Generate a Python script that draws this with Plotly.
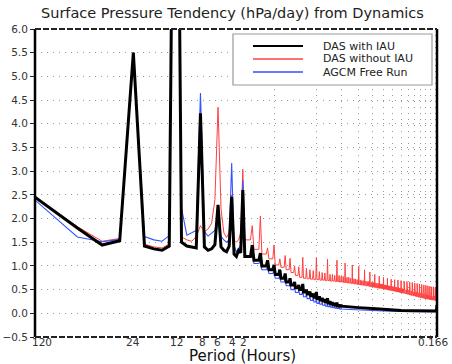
import math
import plotly.graph_objects as go

# ---------------- data (x = harmonic number k, period = 120/k hours) ----------------
k_low = list(range(1, 31))

das_iau_low = [2.45, 1.80, 1.44, 1.53, 5.50, 1.42, 1.36, 1.33, 1.42, 16.0,
               1.50, 1.42, 1.40, 1.38, 4.22, 1.40, 1.33, 1.36, 1.45, 2.29,
               1.40, 1.33, 1.30, 1.42, 2.46, 1.25, 1.20, 1.33, 1.28, 2.60]
das_noiau_low = [2.46, 1.83, 1.52, 1.58, 5.50, 1.46, 1.40, 1.38, 1.46, 15.0,
                 1.61, 1.55, 1.52, 1.62, 1.85, 1.72, 1.78, 1.90, 2.40, 4.35,
                 2.20, 1.70, 1.60, 1.70, 2.50, 1.55, 1.50, 1.55, 1.70, 3.04]
agcm_low = [2.39, 1.61, 1.51, 1.56, 5.50, 1.62, 1.55, 1.52, 1.64, 16.0,
            2.22, 1.65, 1.70, 1.75, 4.65, 1.72, 1.63, 1.69, 1.75, 2.05,
            1.62, 1.55, 1.50, 1.55, 3.17, 1.42, 1.30, 1.35, 1.45, 2.81]

# diurnal-harmonic spikes (k = 35, 40, ..., 720)
red_spike_k = list(range(35, 721, 5))
red_peak = [1.85, 2.05, 1.38, 1.44, 1.15, 1.22, 1.16, 1.00, 0.98, 1.18,
            0.95, 0.92, 0.90, 1.17, 0.88, 0.86, 0.85, 1.14, 0.82, 0.82,
            0.80, 1.12, 0.80, 0.78, 0.78, 1.06, 0.76, 0.76, 0.74, 1.02,
            0.73, 0.72, 0.71, 0.99, 0.70, 0.69, 0.69, 0.92, 0.68, 0.67,
            0.67, 0.87, 0.66, 0.65, 0.65, 0.82, 0.64, 0.63, 0.63, 0.78,
            0.62, 0.62, 0.61, 0.76, 0.60, 0.60, 0.59, 0.74, 0.58, 0.58,
            0.57, 0.72, 0.57, 0.56, 0.56, 0.71, 0.55, 0.55, 0.54, 0.70,
            0.54, 0.53, 0.53, 0.69, 0.52, 0.52, 0.51, 0.68, 0.51, 0.50,
            0.50, 0.67, 0.49, 0.49, 0.48, 0.66, 0.48, 0.47, 0.47, 0.65,
            0.46, 0.46, 0.46, 0.64, 0.45, 0.45, 0.44, 0.63, 0.44, 0.43,
            0.43, 0.62, 0.43, 0.42, 0.42, 0.61, 0.41, 0.41, 0.41, 0.60,
            0.40, 0.40, 0.40, 0.59, 0.39, 0.39, 0.39, 0.58, 0.38, 0.38,
            0.38, 0.57, 0.37, 0.37, 0.37, 0.56, 0.37, 0.36, 0.36, 0.56,
            0.36, 0.36, 0.35, 0.55, 0.35, 0.35, 0.35, 0.55]
red_trough = [1.55, 1.35, 1.25, 1.15, 1.02, 0.97, 0.92, 0.86, 0.80, 0.76,
              0.74, 0.73, 0.72, 0.71, 0.71, 0.70, 0.70, 0.69, 0.69, 0.68,
              0.68, 0.67, 0.67, 0.66, 0.66, 0.65, 0.65, 0.64, 0.64, 0.63,
              0.63, 0.62, 0.62, 0.61, 0.61, 0.60, 0.60, 0.59, 0.59, 0.58,
              0.58, 0.57, 0.57, 0.56, 0.56, 0.55, 0.55, 0.54, 0.54, 0.53,
              0.53, 0.53, 0.52, 0.52, 0.51, 0.51, 0.51, 0.50, 0.50, 0.49,
              0.49, 0.49, 0.48, 0.48, 0.47, 0.47, 0.47, 0.46, 0.46, 0.45,
              0.45, 0.45, 0.44, 0.44, 0.44, 0.43, 0.43, 0.42, 0.42, 0.42,
              0.41, 0.41, 0.40, 0.40, 0.40, 0.39, 0.39, 0.39, 0.38, 0.38,
              0.38, 0.37, 0.37, 0.37, 0.36, 0.36, 0.36, 0.35, 0.35, 0.35,
              0.34, 0.34, 0.34, 0.34, 0.33, 0.33, 0.33, 0.33, 0.32, 0.32,
              0.32, 0.32, 0.31, 0.31, 0.31, 0.31, 0.30, 0.30, 0.30, 0.30,
              0.30, 0.29, 0.29, 0.29, 0.29, 0.29, 0.28, 0.28, 0.28, 0.28,
              0.28, 0.28, 0.28, 0.27, 0.27, 0.27, 0.27, 0.27]

bk_spike_k = list(range(35, 151, 5))
das_iau_peak = [1.44, 1.27, 1.12, 1.02, 0.92, 0.84, 0.74, 0.66, 0.60, 0.62,
                0.50, 0.46, 0.42, 0.45, 0.36, 0.33, 0.30, 0.32, 0.26, 0.24,
                0.22, 0.23, 0.19, 0.18]
das_iau_trough = [1.20, 1.12, 1.00, 0.92, 0.82, 0.74, 0.66, 0.60, 0.54, 0.50,
                  0.45, 0.41, 0.37, 0.34, 0.31, 0.28, 0.26, 0.24, 0.22, 0.20,
                  0.18, 0.17, 0.16, 0.15]
das_iau_tail_k = [151, 175, 200, 250, 300, 400, 500, 600, 700, 714, 720]
das_iau_tail = [0.15, 0.13, 0.12, 0.10, 0.08, 0.06, 0.055, 0.05, 0.05, 0.07, 0.17]

agcm_peak = [1.30, 1.10, 0.98, 0.90, 0.80, 0.75, 0.62, 0.55, 0.48, 0.50,
             0.40, 0.35, 0.32, 0.34, 0.26, 0.23, 0.20, 0.22, 0.17, 0.15,
             0.14, 0.15, 0.12, 0.11]
agcm_trough = [1.18, 1.05, 0.92, 0.84, 0.74, 0.66, 0.58, 0.50, 0.44, 0.40,
               0.35, 0.31, 0.27, 0.24, 0.21, 0.19, 0.17, 0.15, 0.14, 0.13,
               0.12, 0.11, 0.10, 0.09]
agcm_tail_k = [151, 175, 200, 250, 300, 400, 500, 600, 700, 714, 720]
agcm_tail = [0.09, 0.08, 0.07, 0.06, 0.05, 0.04, 0.035, 0.035, 0.035, 0.05, 0.13]

tick_k = [1.12, 5, 10.2, 15.4, 19.7, 25.5, 30.3, 674]
tick_text = ["120", "24", "12", "8", "6", "4", "2", "0.166"]
grid_k = list(range(50, 701, 50))

names = ["DAS with IAU", "DAS without IAU", "AGCM Free Run"]
colors = ["#000000", "#ff4040", "#3552ff"]
widths = [3, 1.0, 1.1]


def series(low, spike_k, peaks, troughs, tail_k=(), tail_v=()):
    xs, ys = list(k_low), list(low)
    for k, p, t in zip(spike_k, peaks, troughs):
        xs += [k - 4, k - 1, k]
        ys += [t, t, p]
    return xs + list(tail_k), ys + list(tail_v)


bx, by = series(das_iau_low, bk_spike_k, das_iau_peak, das_iau_trough, das_iau_tail_k, das_iau_tail)
rx, ry = series(das_noiau_low, red_spike_k, red_peak, red_trough)
ax_, ay = series(agcm_low, bk_spike_k, agcm_peak, agcm_trough, agcm_tail_k, agcm_tail)

fig = go.Figure()
for (x, y, i) in [(rx, ry, 1), (ax_, ay, 2), (bx, by, 0)]:
    fig.add_trace(go.Scatter(x=x, y=y, mode="lines", name=names[i],
                             line=dict(color=colors[i], width=widths[i]),
                             showlegend=False))

# plot area in pixels
L, R, T, B = 35, 437, 29, 337
W, H = 452, 364


def px(x):
    return (x - L) / (R - L)


def py(y):
    return (B - y) / (B - T)


shapes = [
    dict(type="line", xref="paper", yref="paper", x0=0, x1=0, y0=0, y1=1, line=dict(color="black", width=2.5)),
    dict(type="line", xref="paper", yref="paper", x0=1, x1=1, y0=0, y1=1, line=dict(color="black", width=2.5)),
    dict(type="line", xref="paper", yref="paper", x0=0, x1=1, y0=1, y1=1, line=dict(color="#222", width=2, dash="6px,2px")),
    dict(type="line", xref="paper", yref="paper", x0=0, x1=1, y0=0, y1=0, line=dict(color="#222", width=2, dash="6px,2px")),
    dict(type="rect", xref="paper", yref="paper", x0=px(233), x1=px(432), y0=py(85), y1=py(34),
         fillcolor="white", line=dict(color="#999", width=1.2)),
]
annotations = []
for i, yy in enumerate([46, 59, 72]):
    shapes.append(dict(type="line", xref="paper", yref="paper", x0=px(253), x1=px(303),
                       y0=py(yy), y1=py(yy), line=dict(color=colors[i], width=2 if i == 0 else 1.5)))
    annotations.append(dict(xref="paper", yref="paper", x=px(321), y=py(yy), text=names[i],
                            showarrow=False, xanchor="left", yanchor="middle",
                            font=dict(size=11, color="#222")))

# x tick labels (placed just under the frame)
for k, t in zip(tick_k, tick_text):
    annotations.append(dict(xref="x", yref="paper", x=math.log10(k), y=py(342), text=t,
                            showarrow=False, xanchor="center", yanchor="middle",
                            font=dict(size=10.5, color="#333")))

annotations.append(dict(xref="paper", yref="paper", x=px(232), y=py(13),
                        text="Surface Pressure Tendency (hPa/day) from Dynamics",
                        showarrow=False, xanchor="center", yanchor="middle",
                        font=dict(size=14.5, color="#222")))
annotations.append(dict(xref="paper", yref="paper", x=px(242), y=py(356),
                        text="Period (Hours)", showarrow=False, xanchor="center", yanchor="middle",
                        font=dict(size=15, color="#111")))

fig.update_layout(
    width=W, height=H,
    margin=dict(l=L, r=W - R, t=T, b=H - B, autoexpand=False),
    paper_bgcolor="white", plot_bgcolor="white",
    font=dict(family="DejaVu Sans", color="#222"),
    showlegend=False,
    shapes=shapes, annotations=annotations,
    xaxis=dict(type="log", range=[0, math.log10(720)], tickmode="array",
               tickvals=tick_k, ticktext=tick_text, showticklabels=False, automargin=False,
               showgrid=False, ticks="", showline=False, zeroline=False,
               minor=dict(tickmode="array", tickvals=grid_k, showgrid=True,
                          gridcolor="#999", griddash="1px,5px", gridwidth=1, ticks="")),
    yaxis=dict(range=[-0.5, 6.0], tickmode="linear", tick0=0, dtick=0.5, tickformat=".1f",
               automargin=False,
               showgrid=True, gridcolor="#999", griddash="1px,5px", gridwidth=1,
               ticks="outside", ticklen=4, tickcolor="#222", showline=False, zeroline=False,
               tickfont=dict(size=10.5, color="#333")),
)

fig.write_html("out.html")
